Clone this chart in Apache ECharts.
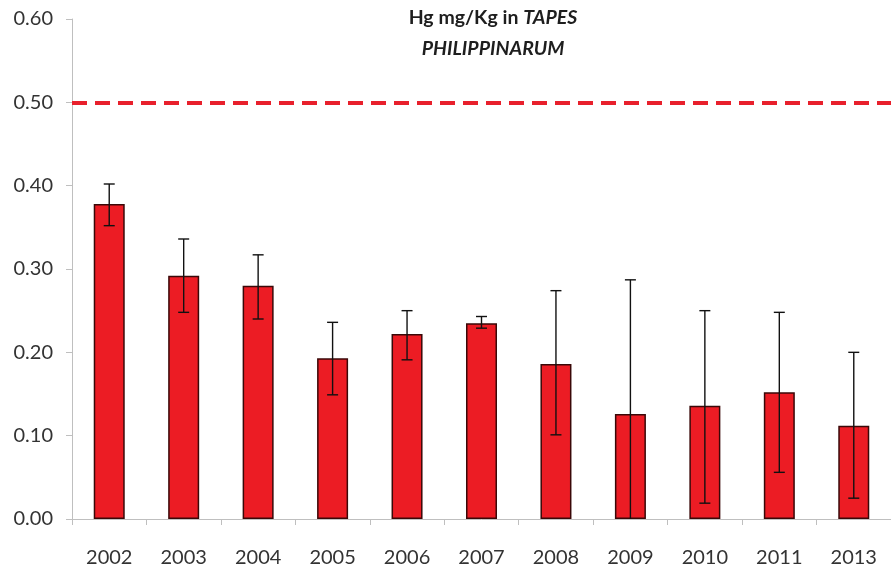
<!DOCTYPE html>
<html>
<head>
<meta charset="utf-8">
<script src="https://cdn.jsdelivr.net/npm/echarts@6/dist/echarts.min.js"></script>
<style>
html,body{margin:0;padding:0;background:#fff;}
#c{width:891px;height:570px;}
</style>
</head>
<body>
<div id="c"></div>
<script>
const years = ['2002','2003','2004','2005','2006','2007','2008','2009','2010','2011','2013'];
const means = [0.378,0.292,0.280,0.193,0.222,0.235,0.186,0.126,0.136,0.152,0.112];
const errUpper = [0.402,0.336,0.317,0.236,0.250,0.243,0.274,0.287,0.250,0.248,0.200];
const errLower = [0.352,0.248,0.240,0.149,0.191,0.229,0.101,-0.035,0.019,0.056,0.025];
const limitValue = 0.50;
const yTicks = [0, 0.1, 0.2, 0.3, 0.4, 0.5, 0.6];

const chart = echarts.init(document.getElementById('c'), null, {renderer:'canvas'});
const FONT = 'Lato, "Open Sans", sans-serif';
const errData = years.map((y,i)=>[i, errLower[i], errUpper[i]]);

chart.setOption({
  animation:false,
  backgroundColor:'#fff',
  graphic:[{
    type:'text', x:493, y:2,
    style:{
      text:'{n|Hg mg/Kg in }{i|TAPES}\n{i|PHILIPPINARUM}',
      align:'center',
      rich:{
        n:{fontFamily:FONT, fontWeight:'bold', fontSize:19.5, fill:'#1e1e1e', lineHeight:31},
        i:{fontFamily:FONT, fontWeight:'bold', fontStyle:'italic', fontSize:19.5, fill:'#1e1e1e', lineHeight:31}
      }
    }
  }],
  grid:{left:72, right:-10, top:19, bottom:51, containLabel:false},
  xAxis:{
    type:'category', data:years,
    axisLine:{show:true, lineStyle:{color:'#bfbfbf', width:1}},
    axisTick:{show:true, alignWithLabel:false, length:6, lineStyle:{color:'#bfbfbf'}},
    axisLabel:{color:'#333', fontFamily:FONT, fontSize:20, margin:29}
  },
  yAxis:{
    type:'value', min:yTicks[0], max:yTicks[yTicks.length-1], interval:0.1,
    axisLine:{show:true, lineStyle:{color:'#bfbfbf', width:1}},
    axisTick:{show:true, length:6, lineStyle:{color:'#bfbfbf'}},
    splitLine:{show:false},
    axisLabel:{color:'#333', fontFamily:FONT, fontSize:20, margin:19, formatter:v=>v.toFixed(2)}
  },
  series:[
    {
      type:'bar', data:means, barWidth:31,
      itemStyle:{color:'#ec1c24', borderColor:'#3a0808', borderWidth:1.5},
      markLine:{
        silent:true, symbol:'none',
        label:{show:false},
        lineStyle:{color:'#e8202c', width:4, type:[15,8]},
        data:[{yAxis:limitValue}]
      }
    },
    {
      type:'custom', data:errData, z:5,
      renderItem:function(params, api){
        const x = api.value(0);
        const lo = api.value(1), hi = api.value(2);
        const loC = Math.max(lo, 0);
        const pHi = api.coord([x, hi]);
        const pLo = api.coord([x, loC]);
        const cap = 5.5;
        const st = {stroke:'#111', lineWidth:1.4};
        const children = [
          {type:'line', shape:{x1:pHi[0], y1:pHi[1], x2:pLo[0], y2:pLo[1]}, style:st},
          {type:'line', shape:{x1:pHi[0]-cap, y1:pHi[1], x2:pHi[0]+cap, y2:pHi[1]}, style:st}
        ];
        if (lo >= 0) children.push({type:'line', shape:{x1:pLo[0]-cap, y1:pLo[1], x2:pLo[0]+cap, y2:pLo[1]}, style:st});
        return {type:'group', children:children};
      }
    }
  ]
});
</script>
</body>
</html>
